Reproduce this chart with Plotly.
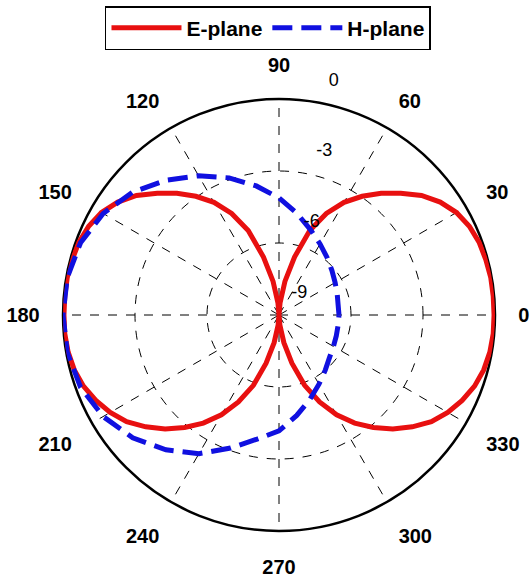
import plotly.graph_objects as go

# ---- data (dB values) ----
theta_e = [0, 5, 10, 15, 20, 25, 30, 35, 40, 45, 50, 55, 60, 65, 70, 75, 80, 85, 90,
           95, 100, 105, 110, 115, 120, 125, 130, 135, 140, 145, 150, 155, 160, 165, 170, 175,
           180, 185, 190, 195, 200, 205, 210, 215, 220, 225, 230, 235, 240, 245, 250, 255, 260,
           265, 270, 275, 280, 285, 290, 295, 300, 305, 310, 315, 320, 325, 330, 335, 340, 345,
           350, 355, 360]
e_plane = [-0.04, -0.04, -0.04, -0.08, -0.13, -0.25, -0.46, -0.8, -1.25, -1.83, -2.38, -2.96,
           -3.58, -4.33, -5.25, -6.5, -7.58, -8.5, -9.0,
           -8.5, -7.58, -6.5, -5.25, -4.33, -3.58, -2.96, -2.38, -1.83, -1.25, -0.8, -0.46,
           -0.25, -0.13, -0.08, -0.04, -0.04,
           -0.04, -0.04, -0.08, -0.17, -0.33, -0.58, -0.88, -1.25, -1.75, -2.29, -2.88, -3.5,
           -4.2, -5.0, -5.88, -6.92, -7.83, -8.58, -9.0,
           -8.58, -7.83, -6.92, -5.88, -5.0, -4.2, -3.5, -2.88, -2.29, -1.75, -1.25, -0.88,
           -0.58, -0.33, -0.17, -0.08, -0.04, -0.04]

theta_h = [0, 10, 20, 30, 40, 50, 60, 70, 80, 90, 100, 110, 120, 130, 140, 150, 160, 170, 180,
           190, 200, 210, 220, 230, 240, 250, 260, 270, 280, 290, 300, 310, 320, 330, 340, 350, 360]
h_plane = [-6.5, -6.5, -6.42, -6.3, -6.12, -5.88, -5.58, -5.2, -4.7, -4.12, -3.54, -2.92, -2.3,
           -1.67, -1.04, -0.54, -0.2, -0.04, 0.0, -0.04, -0.2, -0.54, -1.04, -1.67, -2.33, -3.1,
           -3.75, -4.17, -4.75, -5.25, -5.67, -6.0, -6.25, -6.38, -6.46, -6.5, -6.5]

r_ticks = [-9, -6, -3, 0]
r_tick_labels = ["-9", "-6", "-3", "0"]
label_angle = [80, 80, 80, 80]
theta_ticks = [0, 30, 60, 90, 120, 150, 180, 210, 240, 270, 300, 330]

FONT = "Arial, Liberation Sans, sans-serif"
RED = "rgb(232,16,16)"
BLUE = "rgb(16,16,224)"

fig = go.Figure()
fig.add_trace(go.Scatterpolar(
    r=e_plane, theta=theta_e, mode="lines", name="E-plane",
    line=dict(color=RED, width=5), cliponaxis=False))
fig.add_trace(go.Scatterpolar(
    r=h_plane, theta=theta_h, mode="lines", name="H-plane",
    line=dict(color=BLUE, width=5, dash="20px,9px"),
    cliponaxis=False))
fig.add_trace(go.Scatterpolar(
    r=r_ticks, theta=label_angle, mode="markers+text", text=r_tick_labels,
    marker=dict(size=18, color="rgba(0,0,0,0)"),
    textposition="top right", showlegend=False, hoverinfo="skip",
    textfont=dict(family=FONT, size=18, color="black"), cliponaxis=False))

fig.update_layout(
    width=532, height=580,
    margin=dict(l=63, r=37, t=99, b=49, autoexpand=False),
    paper_bgcolor="white",
    showlegend=True,
    legend=dict(orientation="h", x=0.4745, xanchor="center", y=1.215, yanchor="top",
                bordercolor="black", borderwidth=1.5, bgcolor="white",
                font=dict(family=FONT, size=21, color="black", weight="bold"),
                itemwidth=70, tracegroupgap=0),
    polar=dict(
        domain=dict(x=[0, 1], y=[0, 1]),
        bgcolor="white",
        radialaxis=dict(range=[-9, 0], tickvals=r_ticks, showticklabels=False,
                        ticks="", showline=False, gridcolor="black", griddash="dash",
                        gridwidth=1, layer="below traces", angle=80),
        angularaxis=dict(direction="counterclockwise", rotation=0, tickmode="array",
                         tickvals=theta_ticks, ticktext=[str(t) for t in theta_ticks],
                         ticks="outside", ticklen=18, tickcolor="rgba(0,0,0,0)",
                         showline=True, linecolor="black", linewidth=2.5,
                         gridcolor="black", griddash="dash", gridwidth=1,
                         layer="below traces",
                         tickfont=dict(family=FONT, size=20, color="black", weight="bold")),
    ),
)

fig.write_html("out.html")
